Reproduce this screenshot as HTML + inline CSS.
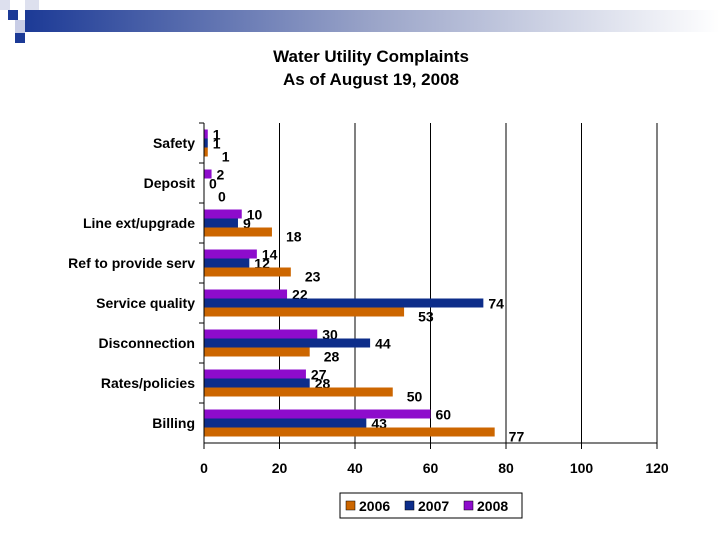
<!DOCTYPE html>
<html><head><meta charset="utf-8"><style>
body{margin:0;width:720px;height:540px;background:#fff;overflow:hidden;font-family:"Liberation Sans",Arial,sans-serif}
</style></head><body>
<svg width="720" height="540" xmlns="http://www.w3.org/2000/svg">
<defs><linearGradient id="g" x1="0" x2="1"><stop offset="0" stop-color="#1c3a96"/><stop offset="0.5" stop-color="#9aa4c8"/><stop offset="1" stop-color="#ffffff"/></linearGradient></defs>
<g>
<rect x="25" y="10" width="695" height="22" fill="url(#g)"/>
<rect x="0" y="0" width="10" height="10" fill="#dde0ee"/>
<rect x="25" y="0" width="14" height="10" fill="#dde0ee"/>
<rect x="8" y="10" width="10" height="10" fill="#1c3a96"/>
<rect x="15" y="20" width="10" height="13" fill="#c8cde6"/>
<rect x="15" y="33" width="10" height="10" fill="#1c3a96"/>
</g>
<text x="371" y="62" text-anchor="middle" font-size="17" font-weight="bold">Water Utility Complaints</text>
<text x="371" y="85" text-anchor="middle" font-size="17" font-weight="bold">As of August 19, 2008</text>
<g id="plot"></g>
<g>
<rect x="340" y="493" width="182" height="25" fill="#fff" stroke="#000"/>
<rect x="346" y="501" width="9" height="9" fill="#cc6600" stroke="#000" stroke-width="0.5"/><text x="359" y="511" font-size="14" font-weight="bold">2006</text>
<rect x="405" y="501" width="9" height="9" fill="#0d2d8a" stroke="#000" stroke-width="0.5"/><text x="418" y="511" font-size="14" font-weight="bold">2007</text>
<rect x="464" y="501" width="9" height="9" fill="#8e0ccc" stroke="#000" stroke-width="0.5"/><text x="477" y="511" font-size="14" font-weight="bold">2008</text>
</g>
</svg>
<script>
const categories=["Safety","Deposit","Line ext/upgrade","Ref to provide serv","Service quality","Disconnection","Rates/policies","Billing"];
const v2006=[1,0,18,23,53,28,50,77];
const v2007=[1,0,9,12,74,44,28,43];
const v2008=[1,2,10,14,22,30,27,60];
const ticks=[0,20,40,60,80,100,120];
const NS="http://www.w3.org/2000/svg";
const g=document.getElementById('plot');
const x0=204,x1=657,ptop=123,bot=443,max=120;
const xs=v=>x0+(v/max)*(x1-x0);
const band=(bot-ptop)/categories.length;
function el(t,a,p){const e=document.createElementNS(NS,t);for(const k in a)e.setAttribute(k,a[k]);(p||g).appendChild(e);return e;}
ticks.forEach(t=>{
 const l=el('line',{x1:xs(t),x2:xs(t),y1:ptop,y2:bot+6,stroke:'#000','stroke-width':1});
 
 
 const tx=el('text',{x:xs(t),y:bot+30,'text-anchor':'middle','font-size':14,'font-weight':'bold'});tx.textContent=t;
 
 
});
const ax=el('line',{x1:x0,x2:x1,y1:bot,y2:bot,stroke:'#000'});


const series=[[v2008,'#8e0ccc','2008'],[v2007,'#0d2d8a','2007'],[v2006,'#cc6600','2006']];
const bh=9;
categories.forEach((c,i)=>{
 const cy=ptop+band*i+band/2;
 const t=el('line',{x1:x0-5,x2:x0,y1:ptop+band*i,y2:ptop+band*i,stroke:'#000'});
 
 
 const lb=el('text',{x:195,y:cy+5,'text-anchor':'end','font-size':14,'font-weight':'bold'});lb.textContent=c;
 
 
 series.forEach((s,j)=>{
  const y=cy-13.5+j*bh;const v=s[0][i];
  const r=el('rect',{x:x0,y:y,width:Math.max(xs(v)-x0,0),height:bh,fill:s[1]});
  
  
  const vt=el('text',{x:xs(v)+(s[2]=='2006'?14:5),y:y+bh+(s[2]=='2006'?5:1),'font-size':14,'font-weight':'bold'});vt.textContent=v;
  
  
 });
});
const yl=el('line',{x1:x0,x2:x0,y1:ptop,y2:bot,stroke:'#000'});


</script>
</body></html>
